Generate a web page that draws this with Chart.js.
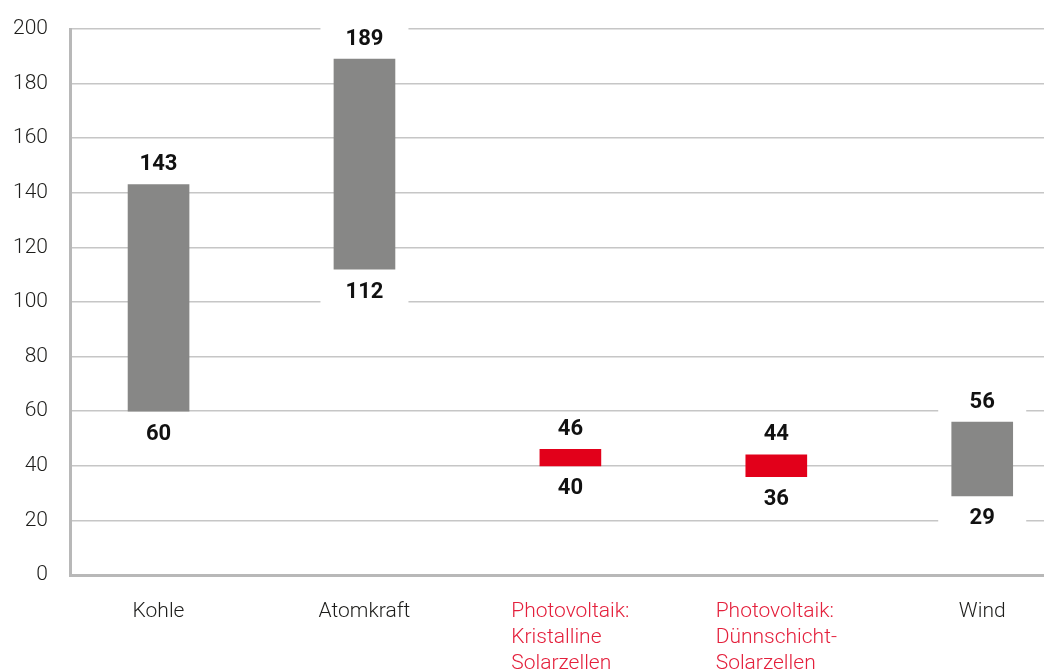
<!DOCTYPE html>
<html lang="de">
<head>
  <meta charset="UTF-8" />
  <title>Spanne je Energieträger</title>
  <script src="https://cdn.jsdelivr.net/npm/chart.js@4.4.1/dist/chart.umd.min.js"></script>
  <style>
    html, body {
      margin: 0;
      padding: 0;
      background: #ffffff;
      overflow: hidden;
    }
    #wrap {
      width: 1044px;
      height: 671px;
    }
  </style>
</head>
<body>
  <div id="wrap">
    <canvas id="rangeChart" width="1044" height="671"></canvas>
  </div>

  <script>
    // ----------------
    // DATA
    // ----------------
    const categories = [
      ["Kohle"],
      ["Atomkraft"],
      ["Photovoltaik:", "Kristalline", "Solarzellen"],
      ["Photovoltaik:", "Dünnschicht-", "Solarzellen"],
      ["Wind"],
    ];
    const lows = [60, 112, 40, 36, 29];
    const highs = [143, 189, 46, 44, 56];
    const yTicks = [0, 20, 40, 60, 80, 100, 120, 140, 160, 180, 200];

    // ----------------
    // STYLE
    // ----------------
    const GREY = "#878786";
    const RED = "#e2001a";
    const RED_TEXT = "#e4203c";
    const TEXT = "#1d1d1b";
    const FONT = "Roboto, 'DejaVu Sans', sans-serif";

    const isSolar = categories.map((c) => c[0].startsWith("Photovoltaik"));

    // value labels above / below each bar, on a white box that cuts the grid
    const valueLabels = {
      id: "valueLabels",
      afterDatasetsDraw(chart) {
        const ctx = chart.ctx;
        const y = chart.scales.y;
        ctx.save();
        chart.getDatasetMeta(0).data.forEach((bar, i) => {
          [[highs[i], -21], [lows[i], 22]].forEach(([v, off]) => {
            const py = y.getPixelForValue(v) + off;
            ctx.fillStyle = "#ffffff";
            ctx.fillRect(bar.x - 44, py - 14, 88, 28);
            ctx.fillStyle = "#111111";
            ctx.font = "700 22px " + FONT;
            ctx.textAlign = "center";
            ctx.textBaseline = "middle";
            ctx.fillText(String(v), bar.x, py + 1);
          });
        });
        ctx.restore();
      },
    };

    // category names: block centred under the bar, lines left aligned
    const categoryLabels = {
      id: "categoryLabels",
      afterDraw(chart) {
        const ctx = chart.ctx;
        const x = chart.scales.x;
        const base = chart.chartArea.bottom;
        ctx.save();
        ctx.font = "300 21px " + FONT;
        ctx.textBaseline = "alphabetic";
        ctx.textAlign = "left";
        categories.forEach((lines, i) => {
          const cx = x.getPixelForValue(i);
          const w = Math.max(...lines.map((l) => ctx.measureText(l).width));
          ctx.fillStyle = isSolar[i] ? RED_TEXT : TEXT;
          lines.forEach((line, j) => {
            ctx.fillText(line, cx - w / 2, base + 42 + j * 26);
          });
        });
        ctx.restore();
      },
    };

    const ctx = document.getElementById("rangeChart").getContext("2d");
    new Chart(ctx, {
      type: "bar",
      data: {
        datasets: [
          {
            data: categories.map((c, i) => ({ x: i, y: [lows[i], highs[i]] })),
            backgroundColor: isSolar.map((s) => (s ? RED : GREY)),
            borderWidth: 0,
            barThickness: 61,
          },
        ],
      },
      options: {
        responsive: false,
        animation: false,
        layout: {
          padding: { top: 29, right: 0, bottom: 96, left: 0 },
        },
        plugins: {
          legend: { display: false },
          tooltip: { enabled: false },
        },
        scales: {
          x: {
            type: "linear",
            offset: false,
            min: -0.43,
            max: 4.3,
            grid: { display: false },
            ticks: { display: false },
            border: { display: true, color: "#b8b8b8", width: 3 },
            afterFit(scale) {
              scale.height = 0;
            },
          },
          y: {
            min: 0,
            max: 200,
            afterBuildTicks(scale) {
              scale.ticks = yTicks.map((v) => ({ value: v }));
            },
            afterFit(scale) {
              scale.width = 70;
              scale.paddingTop = 0;
              scale.paddingBottom = 0;
            },
            grid: {
              color: (c) => (c.tick && c.tick.value === 0 ? "rgba(0,0,0,0)" : "#c6c6c6"),
              lineWidth: 1.5,
              drawTicks: false,
            },
            border: { display: true, color: "#b8b8b8", width: 3 },
            ticks: {
              color: TEXT,
              padding: 22,
              font: { family: FONT, size: 21, weight: "300" },
            },
          },
        },
      },
      plugins: [valueLabels, categoryLabels],
    });
  </script>
</body>
</html>
